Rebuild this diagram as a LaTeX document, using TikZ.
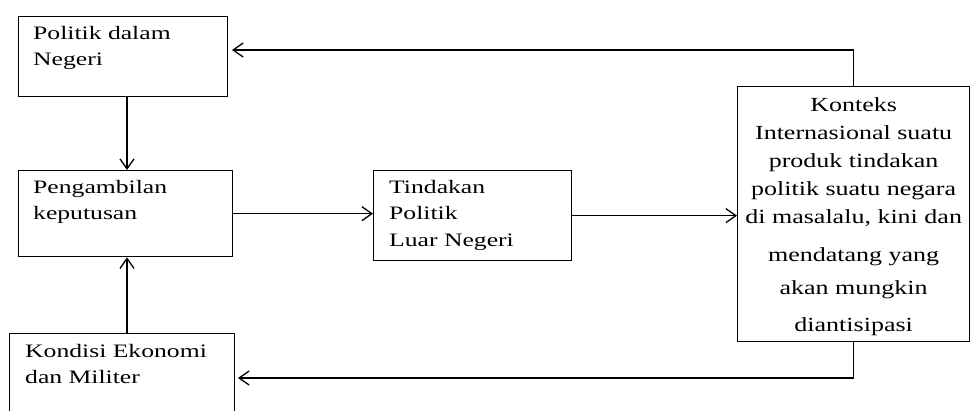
\documentclass[tikz,border=0pt]{standalone}
\usepackage{fontspec}
\setmainfont{Liberation Serif}[FakeStretch=1.35]
\newfontfamily\konfont{Liberation Serif}[FakeStretch=1.3]
\usetikzlibrary{arrows.meta}
\begin{document}
\begin{tikzpicture}[x=1pt,y=-1pt,
  boxx/.style={draw, line width=1.3pt, rectangle, inner sep=0pt, anchor=north west},
  txt/.style={inner sep=0pt, anchor=north west, align=left, font=\fontsize{19}{26.5}\selectfont},
  ktxt/.style={inner sep=0pt, anchor=north, align=center, font=\konfont\fontsize{20}{28}\selectfont},
  arr/.style={line width=1.3pt, -{Straight Barb[length=10pt,width=14pt]}}]
\clip (0,0) rectangle (971,410);
% boxes
\node[boxx, minimum width=209pt, minimum height=80pt] (pdn) at (18,16) {};
\node[boxx, minimum width=214pt, minimum height=86pt] (pk) at (18,170) {};
\node[boxx, minimum width=198pt, minimum height=90pt] (tpl) at (373,170) {};
\node[boxx, minimum width=225pt, minimum height=95pt] (kem) at (9,333) {};
\node[boxx, minimum width=232pt, minimum height=255pt] (kon) at (737,86) {};
% texts
\node[txt] (pdnt) at ([shift={(15,10)}]pdn.north west) {Politik dalam\\Negeri};
\node[txt] (pkt) at ([shift={(15,10)}]pk.north west) {Pengambilan\\keputusan};
\node[txt] (tplt) at ([shift={(16,10)}]tpl.north west) {Tindakan\\Politik\\Luar Negeri};
\node[txt] (kemt) at ([shift={(16,11)}]kem.north west) {Kondisi Ekonomi\\dan Militer};
\node[ktxt] (kont) at ([shift={(0,11)}]kon.north) {Konteks\\Internasional suatu\\produk tindakan\\politik suatu negara\\di masalalu, kini dan\\[10pt]mendatang yang\\[5pt]akan mungkin\\[9pt]diantisipasi};
% helper coordinates
\coordinate (vx) at (127,0);
\coordinate (topend) at (232,50);
\coordinate (botend) at (238,378);
% connectors
\draw[arr] (pdn.south -| vx) -- (pk.north -| vx);
\draw[arr] (kem.north -| vx) -- (pk.south -| vx);
\draw[arr] (pk.east) -- (pk.east -| tpl.west);
\draw[arr] (tpl.east) -- (tpl.east -| kon.west);
\draw[arr] (kon.north) |- (topend);
\draw[arr] (kon.south) |- (botend);
\end{tikzpicture}
\end{document}
